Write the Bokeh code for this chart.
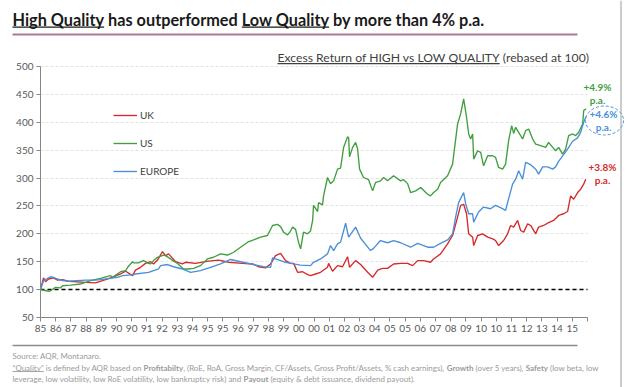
import glob
import numpy as np
from bokeh.plotting import figure
from bokeh.models import (Range1d, FixedTicker, Label, Arrow, Legend, LegendItem)
from bokeh.embed import file_html
from bokeh.resources import INLINE

# ---------------- data ----------------
x_labels = ["85", "86", "87", "88", "89", "90", "90", "91", "92", "93", "94", "95",
            "95", "96", "97", "98", "99", "00", "00", "01", "02", "03", "04", "05",
            "05", "06", "07", "08", "09", "10", "10", "11", "12", "13", "14", "15"]
y_ticks = [50, 100, 150, 200, 250, 300, 350, 400, 450, 500]

uk_x = [0, 0.2, 0.33, 0.53, 0.86, 1.12, 1.45, 1.84, 2.96, 3.62,
        4.08, 4.74, 5.27, 5.6, 6.06, 6.25, 6.58, 6.91, 7.24, 7.44,
        7.7, 8.03, 8.23, 8.43, 8.89, 9.33, 9.55, 10.2, 11.06, 11.72,
        12.38, 13.3, 13.96, 14.35, 14.81, 15.14, 15.47, 15.8, 16.13, 16.46,
        16.66, 16.92, 17.25, 17.58, 17.77, 18.1, 18.43, 18.89, 18.96, 19.22,
        19.55, 19.88, 20.21, 20.34, 20.74, 21.07, 21.53, 21.86, 22.19, 22.51,
        22.84, 23.24, 23.7, 24.16, 24.49, 24.82, 25.21, 25.67, 25.87, 26.33,
        26.79, 27.12, 27.45, 27.65, 27.85, 28.04, 28.18, 28.44, 28.51, 28.77,
        29.1, 29.43, 29.76, 29.95, 30.15, 30.48, 30.74, 30.94, 31.14, 31.4,
        31.6, 31.8, 32.06, 32.26, 32.59, 32.78, 33.11, 33.44, 33.77, 34.1,
        34.43, 34.69, 34.89, 35.09, 35.35, 35.55, 35.75, 35.88]
uk_y = [100, 121, 114, 119, 121, 117, 118, 115, 113, 112,
        116, 122, 128, 133, 125, 135, 140, 147, 150, 146,
        153, 168, 161, 164, 150, 146, 149, 147, 151, 153,
        149, 147, 146, 141, 139, 146, 161, 165, 152, 147,
        147, 131, 132, 127, 125, 128, 131, 140, 147, 133,
        143, 141, 159, 140, 152, 145, 131, 122, 135, 138,
        138, 146, 147, 147, 143, 152, 152, 149, 155, 164,
        182, 197, 230, 251, 253, 236, 200, 194, 179, 197,
        200, 194, 191, 188, 179, 188, 200, 215, 212, 224,
        206, 203, 218, 215, 200, 212, 215, 220, 224, 233,
        236, 240, 268, 262, 274, 280, 289, 298]

us_x = [0, 0.53, 0.66, 0.99, 1.32, 1.45, 1.97, 2.63, 2.96, 3.29,
        3.42, 3.95, 4.61, 4.74, 5.27, 5.6, 5.79, 6.06, 6.12, 6.45,
        6.78, 7.11, 7.24, 7.44, 7.7, 8.1, 8.23, 8.56, 8.76, 9.02,
        9.41, 9.68, 10.07, 10.53, 10.99, 11.39, 11.85, 12.31, 12.71, 13.17,
        13.63, 14.02, 14.48, 14.94, 15.27, 15.6, 15.8, 16.0, 16.26, 16.46,
        16.59, 16.79, 16.98, 17.12, 17.31, 17.58, 17.77, 17.91, 17.97, 18.24,
        18.3, 18.56, 18.63, 18.89, 19.09, 19.29, 19.55, 19.75, 19.95, 20.21,
        20.28, 20.34, 20.54, 20.74, 20.87, 21.0, 21.26, 21.59, 21.86, 22.05,
        22.38, 22.58, 22.84, 23.24, 23.7, 23.9, 24.16, 24.36, 24.69, 25.02,
        25.48, 25.67, 25.87, 26.14, 26.33, 26.79, 27.12, 27.45, 27.65, 27.85,
        28.04, 28.18, 28.31, 28.44, 28.51, 28.77, 28.97, 29.16, 29.43, 29.76,
        29.95, 30.15, 30.41, 30.61, 30.81, 31.01, 31.14, 31.27, 31.47, 31.73,
        31.93, 32.13, 32.39, 32.59, 32.92, 33.25, 33.44, 33.71, 33.9, 34.1,
        34.36, 34.56, 34.76, 35.02, 35.22, 35.42, 35.68, 35.75, 35.9]
us_y = [100, 97, 98, 104, 103, 107, 108, 110, 113, 116,
        117, 120, 125, 122, 132, 134, 142, 150, 148, 148,
        152, 147, 146, 152, 158, 162, 161, 155, 151, 147,
        137, 137, 138, 143, 155, 158, 164, 162, 167, 176,
        185, 189, 194, 197, 215, 217, 213, 203, 198, 205,
        212, 208, 185, 173, 203, 200, 205, 224, 251, 240,
        256, 252, 268, 301, 290, 295, 316, 318, 355, 374,
        372, 338, 355, 364, 352, 316, 301, 297, 277, 292,
        295, 301, 295, 304, 295, 297, 290, 274, 277, 283,
        271, 268, 274, 280, 292, 304, 325, 397, 415, 442,
        409, 379, 370, 379, 334, 349, 346, 322, 340, 340,
        337, 319, 316, 325, 367, 394, 380, 391, 382, 370,
        385, 388, 370, 361, 358, 355, 364, 355, 349, 355,
        343, 352, 376, 379, 376, 382, 397, 421, 424]

eu_x = [0, 0.2, 0.66, 0.86, 1.12, 1.45, 1.84, 2.96, 3.62, 3.95,
        5.07, 5.4, 6.12, 6.25, 7.11, 7.77, 7.9, 8.36, 8.76, 9.33,
        9.88, 10.53, 11.19, 11.85, 12.51, 13.17, 14.02, 14.68, 15.14, 15.27,
        16.0, 16.46, 17.12, 17.77, 17.97, 18.43, 18.89, 19.09, 19.29, 19.55,
        19.75, 20.08, 20.28, 20.74, 21.07, 21.72, 21.92, 22.38, 22.84, 23.24,
        23.7, 24.36, 24.82, 25.48, 25.87, 26.33, 26.79, 27.12, 27.32, 27.52,
        27.85, 27.98, 28.18, 28.44, 28.51, 28.83, 29.16, 29.62, 29.95, 30.28,
        30.61, 30.81, 31.07, 31.27, 31.47, 31.73, 31.93, 32.26, 32.59, 32.78,
        33.05, 33.38, 33.71, 33.9, 34.1, 34.43, 34.69, 35.02, 35.35, 35.55,
        35.75, 35.9]
eu_y = [100, 116, 123, 122, 119, 116, 115, 117, 117, 118,
        122, 125, 127, 128, 131, 137, 143, 145, 141, 137,
        131, 134, 140, 146, 154, 150, 145, 141, 140, 157,
        150, 147, 144, 143, 149, 155, 164, 179, 170, 182,
        185, 219, 194, 212, 192, 170, 174, 188, 184, 188,
        184, 176, 183, 176, 176, 183, 189, 200, 230, 256,
        274, 254, 236, 236, 221, 239, 248, 245, 251, 247,
        242, 263, 289, 298, 313, 298, 328, 324, 316, 307,
        320, 320, 316, 320, 330, 342, 352, 366, 372, 382,
        400, 410]

series_names = ["UK", "US", "EUROPE"]
series_colors = ["#d42a2a", "#3f9f3f", "#4a8fd8"]
rebase_level = 100

title_parts = [("High Quality", True), (" has outperformed ", False),
               ("Low Quality", True), (" by more than 4% p.a.", False)]   # (text, underlined)
subtitle_parts = [("Excess Return of HIGH vs LOW QUALITY", True), (" (rebased at 100)", False)]
footer_lines = [
    [("Source: AQR, Montanaro.", False, False)],
    [("\u201cQuality\u201d", False, True), (" is defined by AQR based on ", False, False),
     ("Profitabilty", True, False),
     (", (RoE, RoA, Gross Margin, CF/Assets, Gross Profit/Assets, % cash earnings), ", False, False),
     ("Growth", True, False), (" (over 5 years), ", False, False), ("Safety", True, False),
     (" (low beta, low", False, False)],
    [("leverage, low volatility, low RoE volatility, low bankruptcy risk) and ", False, False),
     ("Payout", True, False), (" (equity & debt issuance, dividend payout).", False, False)],
]
notes = [("+4.9%", "p.a.", "#3f9f3f"), ("+4.6%", "p.a.", "#4a8fd8"), ("+3.8%", "p.a.", "#d42a2a")]

FONT = "Lato"
W, H = 627, 387

# ---------- text measuring (for placing underlines / bold runs) ----------
try:
    from PIL import ImageFont

    def _find(pat):
        for root in ("/usr/share/fonts", "/usr/local/share/fonts", "/root/.fonts"):
            r = glob.glob(f"{root}/**/{pat}", recursive=True)
            if r:
                return r[0]
        return None
    _fr = _find("Lato-Regular.*")
    _fb = _find("Lato-Bold.*")
    _F = {False: ImageFont.truetype(_fr, 100) if _fr else None,
          True: ImageFont.truetype(_fb, 100) if _fb else None}
except Exception:
    _F = {False: None, True: None}


def tw(text, size, bold=False):
    f = _F[bold]
    if f is None:
        return len(text) * size * (0.54 if bold else 0.50)
    return f.getlength(text) * size / 100.0


# ---------- page geometry of the plotting area (pixels) ----------
PX0, PX1 = 40, 587      # x of first / last tick
PY_TOP, PY_BOT = 66, 317  # y of 500 / 50
nx = len(x_labels)
kx = (PX1 - PX0) / nx
ky = (PY_BOT - PY_TOP) / (y_ticks[-1] - y_ticks[0])
x_range = Range1d(0 - PX0 / kx, nx + (W - PX1) / kx)
y_range = Range1d(y_ticks[0] - (H - PY_BOT) / ky, y_ticks[-1] + PY_TOP / ky)


def to_dx(px):
    return (px - PX0) / kx


def to_dy(py):
    return y_ticks[-1] - (py - PY_TOP) / ky


p = figure(width=W, height=H, output_backend="svg", toolbar_location=None,
           x_range=x_range, y_range=y_range, min_border=0,
           min_border_left=0, min_border_right=0, min_border_top=0, min_border_bottom=0,
           background_fill_color="white", border_fill_color="white")
p.outline_line_color = None

# axes drawn at fixed data locations inside the frame
p.xaxis.ticker = FixedTicker(ticks=list(range(nx + 1)))
ov = {i: lab for i, lab in enumerate(x_labels)}
ov[nx] = ""
p.xaxis.major_label_overrides = ov
p.xaxis.fixed_location = y_ticks[0]
p.xaxis.bounds = (0, nx)
p.yaxis.ticker = FixedTicker(ticks=y_ticks)
p.yaxis.fixed_location = 0
p.yaxis.bounds = (y_ticks[0], y_ticks[-1])
for ax in (p.xaxis, p.yaxis):
    ax.axis_line_color = "#868686"
    ax.major_tick_line_color = "#868686"
    ax.major_tick_out = 4
    ax.major_tick_in = 0
    ax.minor_tick_line_color = None
    ax.major_label_text_font = FONT
    ax.major_label_text_font_size = "10px"
    ax.major_label_text_color = "#595959"
    ax.major_label_standoff = 3
p.xgrid.grid_line_color = None
yg = p.ygrid[0]
if "cross_bounds" in yg.properties():
    yg.cross_bounds = (0, nx)
    yg.grid_line_color = "#e3e3e3"
    yg.grid_line_dash = "3 2"
else:
    yg.grid_line_color = None
    gt = y_ticks[1:]
    p.segment(x0=[0] * len(gt), x1=[nx] * len(gt), y0=gt, y1=gt,
              line_color="#e3e3e3", line_dash="3 2", level="underlay")

# rebase line at 100
p.line([0, nx], [rebase_level, rebase_level], line_color="black", line_dash="4 3", line_width=1.5)

rs = []
for xs, ys, c in ((uk_x, uk_y, series_colors[0]), (us_x, us_y, series_colors[1]),
                  (eu_x, eu_y, series_colors[2])):
    rs.append(p.line(xs, ys, line_color=c, line_width=1.35))

legend = Legend(items=[LegendItem(label=n, renderers=[r]) for n, r in zip(series_names, rs)],
                location=(113, H - 179), glyph_width=24, glyph_height=16, label_height=16,
                spacing=12, padding=0, margin=0, label_standoff=3,
                border_line_color=None, background_fill_alpha=0,
                label_text_font=FONT, label_text_font_size="10px",
                label_text_color="#404040")
p.add_layout(legend)


# ---- helpers in page pixels (frame == whole canvas) ----
def sy(py):
    return H - py


def label(text, px, py, size, color, bold=False, align="left"):
    p.add_layout(Label(x=px, y=sy(py), x_units="screen", y_units="screen",
                       text=text, text_font=FONT, text_font_size=f"{size:.2f}px",
                       text_font_style="bold" if bold else "normal",
                       text_color=color, text_align=align, text_baseline="middle"))


def seg(x0, y0, x1, y1, color, width=1.0):
    p.add_layout(Arrow(end=None, x_start=x0, y_start=sy(y0), x_end=x1, y_end=sy(y1),
                       start_units="screen", end_units="screen", line_color=color,
                       line_width=width))


def run_line(parts, x, py, size, color, ul_dy, bold_all=False):
    """parts: list of (text, bold, underline)"""
    for t, b, u in parts:
        b = b or bold_all
        lead = len(t) - len(t.lstrip(" "))
        xd = x + tw(" " * lead, size, b)
        s = t.strip(" ")
        label(s, xd, py, size, color, bold=b)
        if u:
            seg(xd, py + ul_dy, xd + tw(s, size, b), py + ul_dy, color, 0.9 if size < 12 else 1.3)
        x += tw(t, size, b)


# title: fit from x=12 to x=483
t_full = "".join(t for t, _ in title_parts)
t_size = 471 / (tw(t_full, 100, True) / 100)
run_line([(t, True, u) for t, u in title_parts], 12, 19, t_size, "#1a1a1a", 0.47 * t_size)
seg(12, 34, 577, 34, "#a77b97", 2)

# subtitle: from x=277 to x=588
s_full = "".join(t for t, _ in subtitle_parts)
s_size = 311 / (tw(s_full, 100) / 100)
run_line([(t, False, u) for t, u in subtitle_parts], 277, 57, s_size, "#404040", 0.5 * s_size)

# footer
seg(12, 345, 577, 345, "#8c8c8c", 1.5)
l2w = sum(tw(t, 100, b) for t, b, _ in footer_lines[1]) / 100
f_size = 586 / l2w
for parts, yy in zip(footer_lines, (355, 367, 378)):
    run_line(parts, 12, yy, f_size, "#9a9a9a", 0.5 * f_size)

# slide border on the right
seg(620.5, 0, 620.5, H, "#9a9a9a", 1)

for (a, b, c), (cx, y1) in zip(notes, ((597, 86), (603, 113), (602, 166))):
    label(a, cx, y1, 10, c, bold=True, align="center")
    label(b, cx, y1 + 13, 10, c, bold=True, align="center")

# dashed ellipse around the EUROPE note
p.ellipse(x=[to_dx(604)], y=[to_dy(120)], width=[38], height=[29],
          width_units="screen", height_units="screen", fill_alpha=0,
          line_color="#4a8fd8", line_dash="3 2", line_width=1)

open("out.html", "w").write(file_html(p, INLINE))
